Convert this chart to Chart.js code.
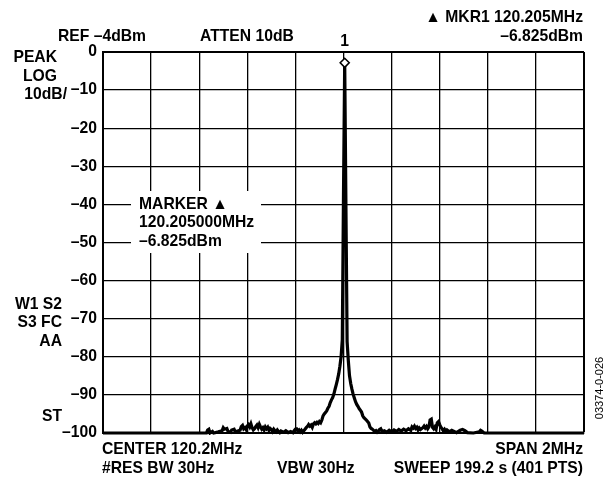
<!DOCTYPE html>
<html>
<head>
<meta charset="utf-8">
<script src="https://cdn.jsdelivr.net/npm/chart.js@4.4.1/dist/chart.umd.min.js"></script>
<style>
  html, body { margin: 0; padding: 0; background: #fff; }
  canvas { display: block; }
</style>
</head>
<body>
<canvas id="spectrum" width="609" height="478"></canvas>
<script>
// sweep: offset from 120.2MHz centre (kHz) and trace level (dB below REF)
const offsetKHz = [
  -1000, -570, -565, -560, -555, -545, -540, -520, -505, -500, -495, -485, -480, -470,
  -465, -455, -450, -440, -430, -425, -420, -415, -410, -405, -400, -395, -390, -385,
  -380, -375, -370, -365, -360, -355, -350, -345, -340, -335, -330, -325, -320, -315,
  -310, -305, -300, -295, -290, -285, -280, -275, -270, -265, -260, -250, -240, -230,
  -220, -210, -205, -200, -195, -190, -185, -180, -175, -170, -165, -160, -155, -150,
  -145, -140, -135, -130, -125, -120, -115, -110, -105, -100, -95, -90, -85, -80,
  -75, -70, -65, -60, -55, -50, -45, -40, -35, -30, -25, -20, -15, -10,
  -5, 0, 5, 10, 15, 20, 25, 30, 35, 40, 45, 50, 55, 60,
  65, 70, 75, 80, 85, 90, 95, 100, 105, 110, 115, 120, 125, 130,
  135, 140, 145, 150, 155, 160, 170, 180, 190, 200, 210, 220, 230, 240,
  250, 260, 270, 280, 285, 290, 295, 300, 305, 310, 315, 320, 330, 335,
  340, 345, 350, 355, 360, 365, 370, 375, 380, 385, 390, 395, 400, 405,
  410, 415, 420, 425, 430, 440, 450, 460, 470, 485, 495, 505, 515, 540,
  565, 570, 575, 585, 1000
];
const levelDb = [
  -100, -100, -99.2, -99.0, -100, -99.6, -100, -99.7, -99.4, -98.6, -99.0, -98.8, -99.6, -99.8,
  -99.2, -99.0, -99.7, -99.5, -99.3, -98.3, -98.0, -98.9, -98.6, -99.1, -98.2, -97.8, -98.4, -97.6,
  -98.6, -99.2, -98.9, -98.3, -97.9, -98.6, -97.7, -98.4, -99.0, -98.6, -99.2, -98.4, -98.9, -98.5,
  -99.3, -98.8, -99.1, -99.6, -99.0, -99.4, -99.7, -99.2, -99.6, -99.9, -99.5, -99.8, -99.4, -99.9,
  -99.6, -99.9, -99.4, -99.0, -98.9, -99.5, -99.2, -99.7, -99.3, -99.8, -99.4, -99.0, -98.6, -98.3,
  -97.8, -98.2, -97.9, -98.5, -97.6, -97.3, -97.6, -97.2, -97.5, -97.0, -97.3, -96.6, -95.5, -95.0,
  -94.6, -94.2, -93.5, -93.0, -92.0, -91.3, -90.7, -89.8, -88.5, -87.3, -86.0, -84.5, -82.5, -80.0,
  -75.5, -37, -2.825, -40, -76, -81, -85, -87, -88.5, -89.8, -90.8, -91.8, -92.5, -93.0,
  -93.6, -94.0, -94.5, -95.5, -96.0, -96.3, -96.6, -97.0, -97.4, -98.4, -98.8, -99.0, -99.3, -99.6,
  -99.4, -99.8, -99.5, -99.1, -98.9, -99.6, -99.4, -99.8, -99.3, -99.7, -99.2, -99.6, -99.1, -99.5,
  -99.0, -99.4, -98.9, -99.3, -98.4, -98.7, -98.2, -98.8, -98.5, -99.2, -98.7, -99.1, -98.6, -98.2,
  -98.7, -98.3, -98.9, -98.4, -96.6, -96.4, -98.5, -98.9, -98.4, -99.0, -97.3, -97.0, -97.8, -98.5,
  -98.9, -99.4, -99.0, -99.5, -99.2, -99.7, -99.3, -99.6, -99.9, -99.3, -99.1, -99.4, -99.9, -100,
  -99.7, -99.3, -99.5, -100, -100
];

// marker 1
const refLevelDbm = -4;
const markerKHz = 5;
const markerDbm = -6.825;

const yTicks = [0, -10, -20, -30, -40, -50, -60, -70, -80, -90, -100];

const trace = offsetKHz.map((x, i) => ({ x: x, y: levelDb[i] }));
const font = "'Liberation Sans', Arial, sans-serif";
const fontSize = 15.7;

const labels = {
  id: 'analyzerText',
  afterDraw(chart) {
    const ctx = chart.ctx;
    const xs = chart.scales.x;
    ctx.save();
    ctx.fillStyle = '#000';
    ctx.textBaseline = 'middle';
    ctx.font = 'bold ' + fontSize + 'px ' + font;

    const put = (str, x, y, align) => {
      ctx.textAlign = align || 'left';
      ctx.fillText(str, x, y);
    };

    put('\u25B2 MKR1 120.205MHz', 583, 18, 'right');
    put('\u2013' + Math.abs(markerDbm).toFixed(3) + 'dBm', 583, 37, 'right');
    put('REF \u20134dBm', 58, 37);
    put('ATTEN 10dB', 200, 37);
    put('1', xs.getPixelForValue(markerKHz), 42, 'center');

    put('PEAK', 57, 58, 'right');
    put('LOG', 57, 77, 'right');
    put('10dB/', 67, 95, 'right');
    put('W1 S2', 62, 305, 'right');
    put('S3 FC', 62, 323, 'right');
    put('AA', 62, 342, 'right');
    put('ST', 62, 417, 'right');

    put('CENTER 120.2MHz', 102, 450);
    put('SPAN 2MHz', 583, 450, 'right');
    put('#RES BW 30Hz', 102, 469);
    put('VBW 30Hz', 277, 469);
    put('SWEEP 199.2 s (401 PTS)', 583, 469, 'right');

    // marker readout box
    ctx.fillStyle = '#fff';
    ctx.fillRect(131, 191, 130, 62);
    ctx.fillStyle = '#000';
    put('MARKER \u25B2', 139, 205);
    put('120.205000MHz', 139, 223);
    put('\u2013' + Math.abs(markerDbm).toFixed(3) + 'dBm', 139, 242);

    ctx.font = '11px ' + font;
    ctx.translate(600, 388);
    ctx.rotate(-Math.PI / 2);
    put('03374-0-026', 0, 0, 'center');
    ctx.restore();
  }
};

new Chart(document.getElementById('spectrum'), {
  type: 'line',
  data: {
    datasets: [{
      label: 'marker',
      data: [{ x: markerKHz, y: markerDbm - refLevelDbm }],
      showLine: false,
      pointStyle: 'rectRot',
      pointRadius: 4.5,
      pointBackgroundColor: '#fff',
      pointBorderColor: '#000',
      pointBorderWidth: 1.6
    }, {
      label: 'trace',
      data: trace,
      borderColor: '#000',
      borderWidth: 3.2,
      pointRadius: 0,
      tension: 0,
      clip: { left: 0, right: 0, top: 0, bottom: 2 }
    }]
  },
  options: {
    responsive: false,
    animation: false,
    devicePixelRatio: 1,
    layout: { padding: { left: 0, top: 52, right: 25, bottom: 45 } },
    plugins: {
      legend: { display: false },
      tooltip: { enabled: false }
    },
    scales: {
      x: {
        type: 'linear',
        min: -1000,
        max: 1000,
        ticks: { display: false, stepSize: 200 },
        grid: {
          color: '#000',
          lineWidth: (c) => (c.tick && c.tick.value === 1000 ? 2 : 1.3),
          drawTicks: false
        },
        border: { color: '#000', width: 2 },
        afterFit: (scale) => { scale.height = 0; }
      },
      y: {
        min: -100,
        max: 0,
        afterBuildTicks: (scale) => { scale.ticks = yTicks.map((v) => ({ value: v })); },
        ticks: {
          color: '#000',
          padding: 6,
          font: { family: font, size: fontSize, weight: 'bold' },
          callback: (v) => (v < 0 ? '\u2013' + Math.abs(v) : String(v))
        },
        grid: {
          color: '#000',
          lineWidth: (c) => (c.tick && c.tick.value === 0 ? 2 : 1.3),
          drawTicks: false
        },
        border: { color: '#000', width: 2 },
        afterFit: (scale) => { scale.width = 103; }
      }
    }
  },
  plugins: [labels]
});
</script>
</body>
</html>
